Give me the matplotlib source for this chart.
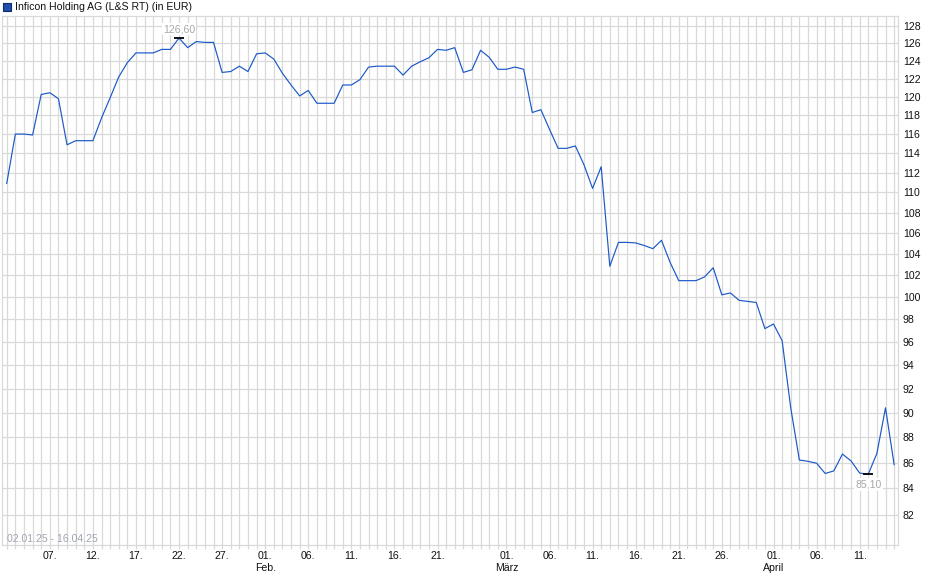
import matplotlib
matplotlib.use("Agg")
import matplotlib.pyplot as plt
import matplotlib.dates as mdates
from matplotlib.patches import Rectangle
import numpy as np
import pandas as pd

plt.rcParams['font.family'] = ['Liberation Sans', 'DejaVu Sans']

title = "Inficon Holding AG (L&S RT) (in EUR)"
range_text = "02.01.25 - 16.04.25"
start_date = "2025-01-02"
prices = [
    110.9, 116.0, 116.0, 115.9, 120.26, 120.45, 119.8, 114.87, 115.3, 115.3,
    115.3, 117.7, 119.9, 122.2, 123.8, 124.9, 124.9, 124.9, 125.3, 125.3,
    126.6, 125.5, 126.2, 126.1, 126.1, 122.7, 122.8, 123.4, 122.8, 124.8,
    124.9, 124.2, 122.6, 121.3, 120.1, 120.7, 119.3, 119.3, 119.3, 121.3,
    121.3, 121.9, 123.3, 123.4, 123.4, 123.4, 122.4, 123.4, 123.9, 124.35,
    125.3, 125.2, 125.5, 122.7, 123.0, 125.2, 124.4, 123.05, 123.05, 123.3,
    123.05, 118.3, 118.6, 116.5, 114.5, 114.5, 114.75, 112.8, 110.4, 112.6,
    102.84, 105.1, 105.1, 105.05, 104.8, 104.5, 105.3, 103.2, 101.5, 101.5,
    101.5, 101.85, 102.7, 100.2, 100.37, 99.7, 99.6, 99.5, 97.16, 97.57,
    96.1, 90.39, 86.2, 86.1, 85.95, 85.15, 85.35, 86.67, 86.13, 85.18,
    85.10, 86.72, 90.4, 85.84,
]
y_ticks = list(range(82, 129, 2))
x_tick_dates = ["2025-01-07", "2025-01-12", "2025-01-17", "2025-01-22", "2025-01-27",
                "2025-02-01", "2025-02-06", "2025-02-11", "2025-02-16", "2025-02-21",
                "2025-03-01", "2025-03-06", "2025-03-11", "2025-03-16", "2025-03-21",
                "2025-03-26", "2025-04-01", "2025-04-06", "2025-04-11"]
x_tick_labels = ["07.", "12.", "17.", "22.", "27.", "01.\nFeb.", "06.", "11.", "16.", "21.",
                 "01.\nMärz", "06.", "11.", "16.", "21.", "26.", "01.\nApril", "06.", "11."]
max_label = "126,60"
min_label = "85,10"

dates = pd.date_range(start_date, periods=len(prices), freq="D")
xd = mdates.date2num(dates)

W, H = 940, 579
FS = 7.6
fig = plt.figure(figsize=(W / 100, H / 100), dpi=100)
ax = fig.add_axes([2 / W, (H - 545) / H, 896 / W, 529 / H])

grid_c = "#d9d9d9"
line_c = "#1a58c8"

ax.plot(xd, prices, color=line_c, lw=0.85, zorder=3)
ax.set_yscale("log")
ax.set_ylim(79.78, 129.17)
ax.set_xlim(xd[0] - 0.55, xd[0] + 103.45)

# horizontal grid
ax.set_yticks(y_ticks)
ax.set_yticklabels([str(v) for v in y_ticks])
ax.yaxis.set_minor_locator(matplotlib.ticker.NullLocator())
ax.yaxis.tick_right()
ax.tick_params(axis="y", length=0, pad=3.5, labelsize=FS, labelcolor="#111111")
for v in y_ticks:
    ax.axhline(v, color=grid_c, lw=0.9, zorder=1)

# vertical daily grid
for x in xd:
    ax.axvline(x, color=grid_c, lw=0.9, zorder=1)
ax.set_xticks(xd, minor=True)
ax.tick_params(axis="x", which="minor", length=3, color=grid_c, width=0.9)
ax.set_xticks(mdates.date2num(pd.to_datetime(x_tick_dates)))
ax.set_xticklabels(x_tick_labels)
ax.tick_params(axis="x", which="major", length=3, color=grid_c, width=0.9, pad=1.5,
               labelsize=FS, labelcolor="#111111")

for s in ax.spines.values():
    s.set_color(grid_c)
    s.set_linewidth(0.9)

# max / min annotations
imax = int(np.argmax(prices))
imin = int(np.argmin(prices))
ax.plot([xd[imax]], [prices[imax]], marker="_", ms=6.5, mew=1.3, color="black", zorder=4)
ax.plot([xd[imin]], [prices[imin]], marker="_", ms=6.5, mew=1.3, color="black", zorder=4)
ax.annotate(max_label, (xd[imax], prices[imax]), xytext=(0, 6.5), textcoords="offset points",
            ha="center", va="center", fontsize=FS, color="#a8a8a8", zorder=5,
            bbox=dict(boxstyle="square,pad=0.1", fc="white", ec="none"))
ax.annotate(min_label, (xd[imin], prices[imin]), xytext=(0, -7.5), textcoords="offset points",
            ha="center", va="center", fontsize=FS, color="#a8a8a8", zorder=5,
            bbox=dict(boxstyle="square,pad=0.15", fc="white", ec="none"))

# date range text
fig.text(7 / W, 1 - 539 / H, range_text, ha="left", va="center", fontsize=FS, color="#a0a4b0")

# title with legend square
fig.patches.append(Rectangle((3 / W, 1 - 11 / H), 8 / W, 8 / H, transform=fig.transFigure,
                             fc="#1f4fb0", ec="#0d2a66", lw=0.8))
fig.text(15 / W, 1 - 6.5 / H, title, ha="left", va="center", fontsize=FS, color="#111111")

fig.savefig("out.png", dpi=100)
